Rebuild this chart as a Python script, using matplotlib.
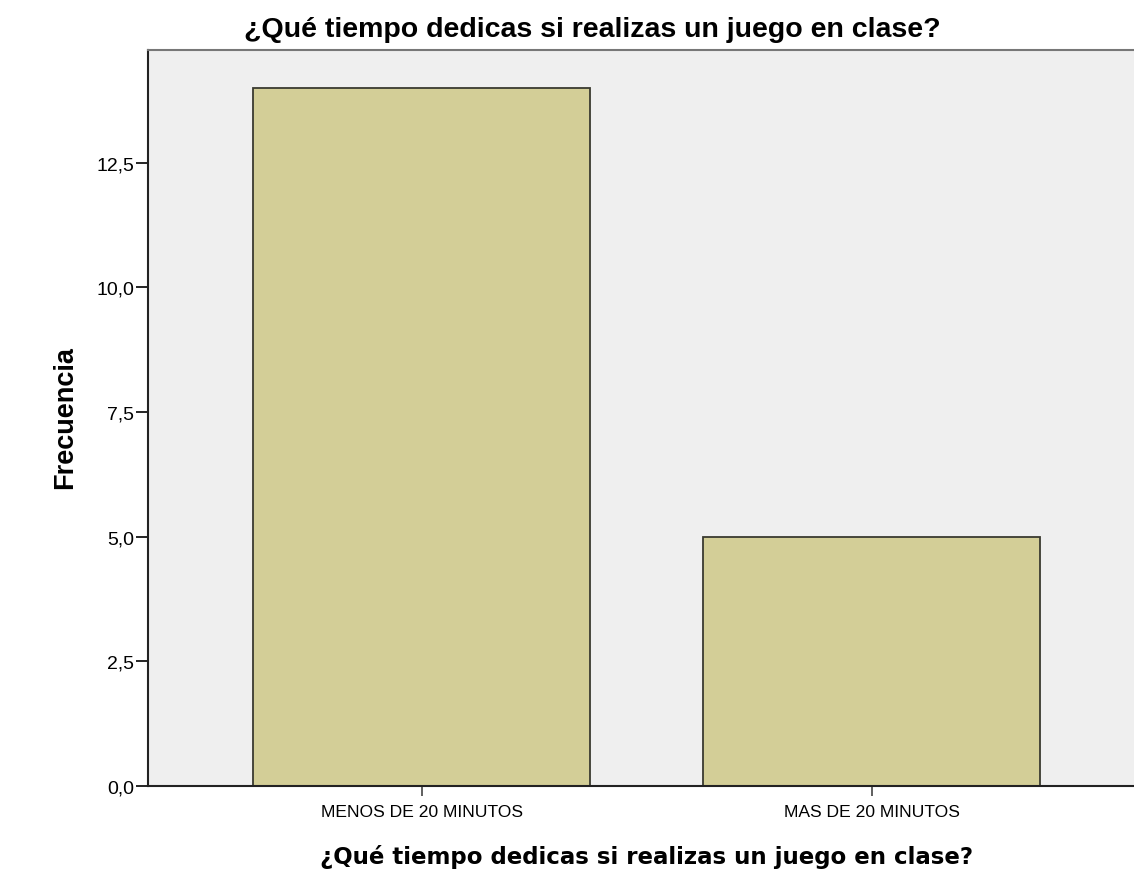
import matplotlib
matplotlib.use("Agg")
import matplotlib.pyplot as plt
import numpy as np

# data
categories = ["MENOS DE 20 MINUTOS", "MAS DE 20 MINUTOS"]
frecuencia = [14, 5]
yticks = [0.0, 2.5, 5.0, 7.5, 10.0, 12.5]
titulo = "¿Qué tiempo dedicas si realizas un juego en clase?"

W, H = 1134, 870
fig = plt.figure(figsize=(W / 100, H / 100), dpi=100)
ax = fig.add_axes([148 / W, (H - 787) / H, 1 - 148 / W, (787 - 51) / H])
ax.set_facecolor("#efefef")

x = np.arange(len(categories))
ax.bar(x, frecuencia, width=0.75, color="#d3ce97", edgecolor="#3a3a30", linewidth=1.3)

ax.set_xlim(-0.608, 1.583)
ax.set_ylim(0, 14.76)
ax.set_xticks(x)
ax.set_xticklabels(categories, fontsize=12.6, family="Liberation Sans")
ax.set_yticks(yticks)
ax.set_yticklabels([("%.1f" % v).replace(".", ",") for v in yticks],
                   fontsize=14, family="Liberation Sans")
ax.tick_params(axis="y", length=9, width=1.2, pad=1)
ax.tick_params(axis="x", length=7, width=1.2, pad=6, color="#444444")

for s in ["left", "bottom"]:
    ax.spines[s].set_linewidth(1.5)
    ax.spines[s].set_color("#222222")
ax.spines["top"].set_color("#777777")
ax.spines["top"].set_linewidth(1.5)
ax.spines["right"].set_visible(False)

fig.text(592 / W, 1 - 30 / H, titulo, ha="center", va="center",
         fontsize=20.5, fontweight="bold", family="Liberation Sans")
fig.text(647 / W, 1 - 857 / H, titulo, ha="center", va="center",
         fontsize=16.5, fontweight="bold", family="DejaVu Sans")
fig.text(65 / W, 1 - 418 / H, "Frecuencia", ha="center", va="center",
         rotation=90, fontsize=19.5, fontweight="bold", family="Liberation Sans")

fig.savefig("out.png", dpi=100)
